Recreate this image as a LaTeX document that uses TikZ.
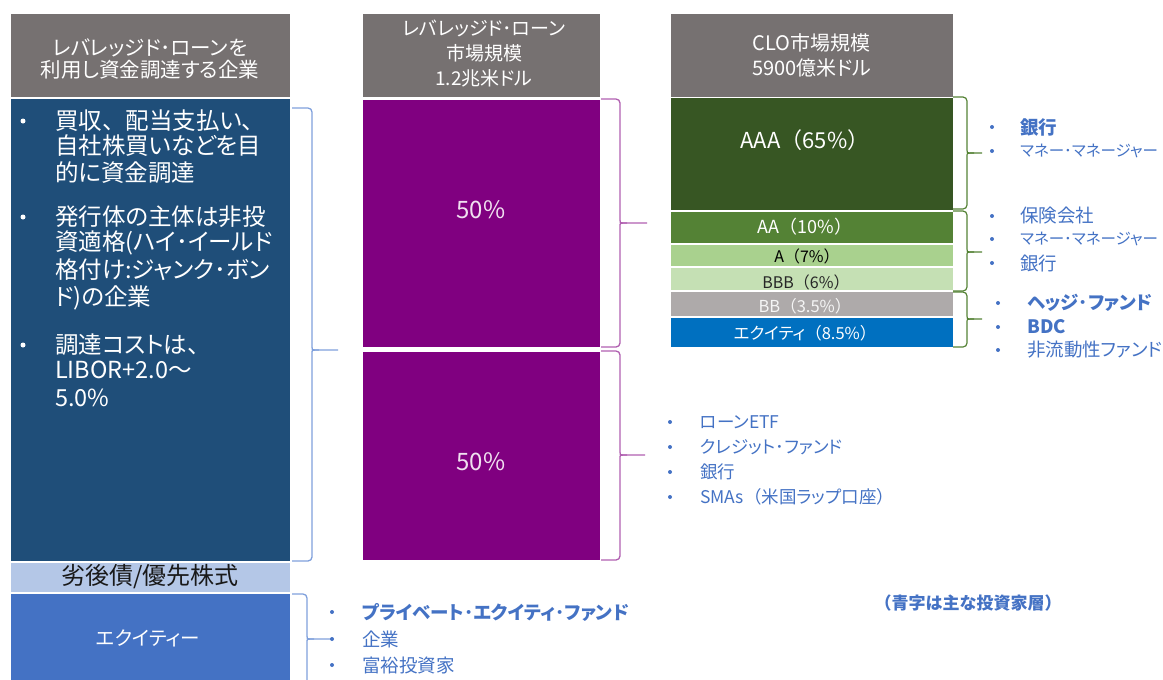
\documentclass[tikz,border=0pt]{standalone}
\usepackage{fontspec}
\setmainfont{Noto Sans CJK JP}[RawFeature=+palt]
\newfontfamily\np{Noto Sans CJK JP}
\definecolor{hdrgray}{HTML}{767171}
\definecolor{navy}{HTML}{1F4E79}
\definecolor{lsubc}{HTML}{B4C7E7}
\definecolor{leqc}{HTML}{4472C4}
\definecolor{purp}{HTML}{800080}
\definecolor{aaac}{HTML}{375623}
\definecolor{aac}{HTML}{548235}
\definecolor{ac}{HTML}{A9D18E}
\definecolor{bbbc}{HTML}{C5E0B4}
\definecolor{bbc}{HTML}{AEAAAA}
\definecolor{eqc}{HTML}{0070C0}
\definecolor{invblue}{HTML}{4472C4}
\definecolor{bracblue}{HTML}{7FA0DC}
\definecolor{bracpurp}{HTML}{B060B0}
\definecolor{bracgreen}{HTML}{548235}
\newcommand\mybrace[7]{%
  \draw[#1,rounded corners=4pt] (#2,#5) -- (#3,#5) -- (#3,#6-7) .. controls (#3,#6) .. (#3+7,#6) -- (#4,#6);
  \draw[#1,rounded corners=4pt] (#3+7,#6) .. controls (#3,#6) .. (#3,#6+7) -- (#3,#7) -- (#2,#7);
}
\newcommand\ten{{\np 、}}
\newcommand\lp{{\np （}}
\newcommand\rp{{\np ）}}
\begin{document}
\begin{tikzpicture}[x=1pt,y=-1pt,
  box/.style={draw=white,line width=1pt,inner sep=0pt,outer sep=0pt},
  hdr/.style={box,fill=hdrgray},
  htxt/.style={text=white,align=center,inner sep=0pt},
  ltxt/.style={anchor=west,inner sep=0pt,text=white,font=\fontsize{23.5}{26}\selectfont},
  wdot/.style={circle,fill=white,inner sep=0pt,minimum size=5pt},
  bdot/.style={circle,fill=invblue,inner sep=0pt,minimum size=4pt},
  itxt/.style={anchor=west,inner sep=0pt,text=invblue,font=\fontsize{18.5}{20}\selectfont},
  btxt/.style={itxt,font=\fontsize{18.5}{20}\selectfont\bfseries},
  trn/.style={box,minimum width=283pt},
]
\useasboundingbox (0,0) rectangle (1163,680);
% left column
\node[hdr,minimum width=280pt,minimum height=84pt] (lhead) at (150,55) {};
\node[htxt,font=\fontsize{20.5}{22}\selectfont] (lheadt) at (150,59) {レバレッジド･ローンを\\利用し資金調達する企業};
\node[box,fill=navy,minimum width=280pt,minimum height=463pt] (lmain) at (150,329.5) {};
\node[box,fill=lsubc,minimum width=280pt,minimum height=30pt,font=\fontsize{24}{24}\selectfont,text=black!90] (lsub) at (150,577) {劣後債/優先株式};
\node[box,fill=leqc,minimum width=280pt,minimum height=94pt] (leq) at (150,640) {};
\node[text=white,font=\fontsize{19.5}{22}\selectfont] (leqt) at (148,638) {エクイティー};
\node[wdot] (ld1) at (23,121) {};
\node[wdot] (ld2) at (23,217) {};
\node[wdot] (ld3) at (23,345) {};
\node[ltxt] (l1) at (55,121) {買収\ten 配当支払い\ten};
\node[ltxt] (l2) at (55,146) {自社株買いなどを目};
\node[ltxt] (l3) at (55,173) {的に資金調達};
\node[ltxt] (l4) at (55,217) {発行体の主体は非投};
\node[ltxt] (l5) at (55,243) {資適格(ハイ･イールド};
\node[ltxt] (l6) at (55,270) {格付け:ジャンク･ボン};
\node[ltxt] (l7) at (55,298) {ド)の企業};
\node[ltxt] (l8) at (55,345) {調達コストは\ten};
\node[ltxt] (l9) at (55,370) {LIBOR+2.0～};
\node[ltxt] (l10) at (55,398) {5.0\%};
% middle column
\node[hdr,minimum width=238pt,minimum height=84pt] (mhead) at (481,55) {};
\node[htxt,font=\fontsize{19}{25}\selectfont] (mheadt) at (484,54) {レバレッジド･ローン\\市場規模\\1.2兆米ドル};
\node[box,fill=purp,minimum width=238pt,minimum height=248pt] (m1) at (481,223) {};
\node[box,fill=purp,minimum width=238pt,minimum height=209pt] (m2) at (481,455.5) {};
\node[text=white!88!purp,font=\fontsize{24}{26}\selectfont] (m1t) at (481,210) {50\%};
\node[text=white!88!purp,font=\fontsize{24}{26}\selectfont] (m2t) at (481,462) {50\%};
% right column
\node[hdr,minimum width=283pt,minimum height=84pt] (rhead) at (811.5,55) {};
\node[htxt,font=\fontsize{20}{25}\selectfont] (rheadt) at (811.5,55) {CLO市場規模\\5900億米ドル};
\node[trn,fill=aaac,minimum height=113pt] (aaa) at (811.5,153.5) {};
\node[trn,fill=aac,minimum height=32pt] (aa) at (811.5,227) {};
\node[trn,fill=ac,minimum height=22pt] (a) at (811.5,255) {};
\node[trn,fill=bbbc,minimum height=23pt] (bbb) at (811.5,278.5) {};
\node[trn,fill=bbc,minimum height=25pt] (bb) at (811.5,303.5) {};
\node[trn,fill=eqc,minimum height=30pt] (eq) at (811.5,332) {};
\node[text=white,font=\fontsize{22}{24}\selectfont] (aaat) at (805,140) {AAA\lp 65\%\rp};
\node[text=white,font=\fontsize{18}{20}\selectfont] (aat) at (805,227) {AA\lp 10\%\rp};
\node[text=black,font=\fontsize{16}{18}\selectfont] (at) at (807,256) {A\lp 7\%\rp};
\node[text=black!85,font=\fontsize{16}{18}\selectfont] (bbbt) at (806,282) {BBB\lp 6\%\rp};
\node[text=white!92!gray,font=\fontsize{16.5}{18}\selectfont] (bbt) at (805,306) {BB\lp 3.5\%\rp};
\node[text=white,font=\fontsize{16.5}{18}\selectfont] (eqt) at (805,333) {エクイティ\lp 8.5\%\rp};
% braces
\mybrace{bracblue,line width=1.3pt}{292}{312}{338}{108}{350}{561}
\mybrace{bracblue,line width=1.3pt}{292}{307}{333}{594}{639}{700}
\mybrace{bracpurp,line width=1.3pt}{601}{620}{647}{99}{223}{347}
\mybrace{bracpurp,line width=1.3pt}{601}{620}{645}{351}{455}{560}
\mybrace{bracgreen,line width=1.2pt}{953}{967}{982}{97}{153}{209}
\mybrace{bracgreen,line width=1.2pt}{953}{967}{982}{211}{252}{291}
\mybrace{bracgreen,line width=1.2pt}{953}{967}{982}{292}{319}{347}
% right investor bullets
\node[bdot] (rd1) at (992,127) {};
\node[bdot] (rd2) at (992,151) {};
\node[bdot] (rd3) at (992,216) {};
\node[bdot] (rd4) at (992,239) {};
\node[bdot] (rd5) at (992,263) {};
\node[bdot] (rd6) at (998,303) {};
\node[bdot] (rd7) at (998,327) {};
\node[bdot] (rd8) at (998,350) {};
\node[btxt] (r1) at (1020,127) {銀行};
\node[itxt,font=\fontsize{15.5}{20}\selectfont] (r2) at (1020,151) {マネー･マネージャー};
\node[itxt] (r3) at (1020,216) {保険会社};
\node[itxt,font=\fontsize{15.5}{20}\selectfont] (r4) at (1020,239) {マネー･マネージャー};
\node[itxt] (r5) at (1020,263) {銀行};
\node[btxt] (r6) at (1027,303) {ヘッジ･ファンド};
\node[btxt] (r7) at (1027,327) {BDC};
\node[itxt] (r8) at (1027,350) {非流動性ファンド};
% middle investor bullets
\node[bdot] (md1) at (670,422) {};
\node[bdot] (md2) at (670,447) {};
\node[bdot] (md3) at (670,472) {};
\node[bdot] (md4) at (670,497) {};
\node[itxt,font=\fontsize{17.5}{20}\selectfont] (mt1) at (700,422) {ローンETF};
\node[itxt,font=\fontsize{17.5}{20}\selectfont] (mt2) at (700,447) {クレジット･ファンド};
\node[itxt,font=\fontsize{17.5}{20}\selectfont] (mt3) at (700,472) {銀行};
\node[itxt,font=\fontsize{17.5}{20}\selectfont] (mt4) at (700,497) {SMAs\lp 米国ラップ口座\rp};
% bottom investor bullets
\node[bdot] (bd1) at (332,612) {};
\node[bdot] (bd2) at (332,639) {};
\node[bdot] (bd3) at (332,665) {};
\node[btxt] (bt1) at (362,612) {プライベート･エクイティ･ファンド};
\node[itxt] (bt2) at (362,639) {企業};
\node[itxt] (bt3) at (362,665) {富裕投資家};
% note
\node[btxt,anchor=center,font=\np\fontsize{17}{20}\selectfont\bfseries] (note) at (968,603) {（青字は主な投資家層）};
\end{tikzpicture}
\end{document}
